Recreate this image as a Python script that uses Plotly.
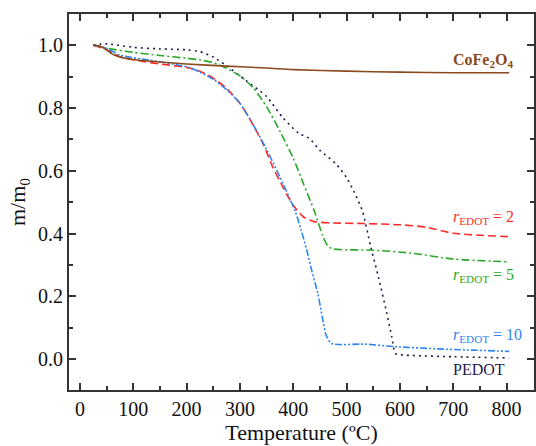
import plotly.graph_objects as go

# ---- data ----
T_cofe = [25, 40, 50, 60, 75, 100, 150, 200, 275, 350, 400, 500, 600, 700, 805]
m_cofe = [1.0, 0.995, 0.985, 0.972, 0.962, 0.954, 0.946, 0.940, 0.933, 0.927, 0.922, 0.917, 0.914, 0.912, 0.912]

T_r2 = [25, 50, 75, 110, 150, 200, 225, 250, 275, 300, 325, 345, 360, 380, 400, 420, 440, 470, 530, 600, 650, 700, 808]
m_r2 = [1.0, 0.985, 0.963, 0.950, 0.940, 0.929, 0.917, 0.895, 0.862, 0.815, 0.745, 0.680, 0.618, 0.550, 0.490, 0.452, 0.438, 0.434, 0.432, 0.428, 0.420, 0.401, 0.390]

T_r5 = [25, 50, 100, 150, 200, 225, 250, 275, 300, 325, 350, 375, 400, 420, 440, 455, 465, 475, 550, 620, 700, 805]
m_r5 = [1.0, 0.990, 0.977, 0.967, 0.958, 0.953, 0.944, 0.926, 0.902, 0.864, 0.804, 0.726, 0.640, 0.555, 0.470, 0.395, 0.360, 0.351, 0.347, 0.338, 0.319, 0.310]

T_r10 = [25, 50, 75, 130, 200, 225, 250, 275, 300, 325, 350, 375, 392, 405, 415, 425, 435, 446, 455, 462, 472, 535, 590, 670, 805]
m_r10 = [1.0, 0.990, 0.968, 0.952, 0.931, 0.914, 0.891, 0.858, 0.815, 0.746, 0.668, 0.580, 0.517, 0.465, 0.410, 0.350, 0.280, 0.210, 0.130, 0.075, 0.050, 0.048, 0.040, 0.033, 0.025]

T_pedot = [25, 50, 100, 150, 200, 225, 250, 275, 310, 350, 380, 410, 430, 450, 480, 500, 515, 530, 545, 560, 575, 585, 592, 610, 700, 805]
m_pedot = [1.0, 1.004, 0.993, 0.988, 0.985, 0.979, 0.962, 0.934, 0.889, 0.836, 0.770, 0.720, 0.703, 0.665, 0.622, 0.578, 0.530, 0.470, 0.360, 0.260, 0.150, 0.070, 0.018, 0.013, 0.008, 0.004]

x_ticks = [0, 100, 200, 300, 400, 500, 600, 700, 800]
y_ticks = [0.0, 0.2, 0.4, 0.6, 0.8, 1.0]
y_ticklabels = ["0.0", "0.2", "0.4", "0.6", "0.8", "1.0"]

C_BROWN = "#8B4A1E"
C_RED = "#FF2B2B"
C_GREEN = "#2BA82B"
C_BLUE = "#2E86F0"
C_NAVY = "#1C1C4E"

FONT = "Liberation Serif, Times New Roman, serif"

fig = go.Figure()

def add(x, y, color, dash, name):
    fig.add_trace(go.Scatter(x=x, y=y, mode="lines", name=name,
                             line=dict(color=color, width=1.6, dash=dash,
                                       shape="spline", smoothing=0.7)))

add(T_pedot, m_pedot, C_NAVY, "2px,4px", "PEDOT")
add(T_r5, m_r5, C_GREEN, "8px,3px,2px,3px", "r5")
add(T_r2, m_r2, C_RED, "8px,4px", "r2")
add(T_r10, m_r10, C_BLUE, "7px,2px,2px,2px,2px,2px", "r10")
add(T_cofe, m_cofe, C_BROWN, "solid", "CoFe2O4")

ann_font = dict(family=FONT, size=16)
lx = 695
fig.add_annotation(x=lx, y=0.952, text="<b>CoFe<sub>2</sub>O<sub>4</sub></b>", showarrow=False,
                   xanchor="left", yanchor="middle", font=dict(ann_font, color=C_BROWN))
fig.add_annotation(x=lx, y=0.452, text="<i>r</i><sub>EDOT</sub> = 2", showarrow=False,
                   xanchor="left", yanchor="middle", font=dict(ann_font, color=C_RED))
fig.add_annotation(x=lx, y=0.268, text="<i>r</i><sub>EDOT</sub> = 5", showarrow=False,
                   xanchor="left", yanchor="middle", font=dict(ann_font, color=C_GREEN))
fig.add_annotation(x=lx, y=0.074, text="<i>r</i><sub>EDOT</sub> = 10", showarrow=False,
                   xanchor="left", yanchor="middle", font=dict(ann_font, color=C_BLUE))
fig.add_annotation(x=lx, y=-0.034, text="PEDOT", showarrow=False,
                   xanchor="left", yanchor="middle", font=dict(ann_font, color=C_NAVY))

axis_common = dict(showline=True, linecolor="#333333", linewidth=2, mirror="allticks",
                   ticks="inside", ticklen=7, tickwidth=1.5, tickcolor="#333333",
                   showgrid=False, zeroline=False,
                   tickfont=dict(family=FONT, size=20, color="#111111"))

fig.update_xaxes(range=[-20.5, 851.5], tickvals=x_ticks, **axis_common,
                 minor=dict(dtick=50, tick0=0, ticks="inside", ticklen=4, tickwidth=1.5, tickcolor="#333333"),
                 title=dict(text="Temperature (ºC)", font=dict(family=FONT, size=22, color="#111111"), standoff=6))
fig.update_yaxes(range=[-0.098, 1.099], tickvals=y_ticks, ticktext=y_ticklabels, **axis_common,
                 minor=dict(dtick=0.1, tick0=0, ticks="inside", ticklen=4, tickwidth=1.5, tickcolor="#333333"),
                 title=dict(text="m/m<sub>0</sub>", font=dict(family=FONT, size=22, color="#111111"), standoff=6))

fig.update_layout(width=536, height=446, margin=dict(l=69, r=0, t=14, b=56),
                  plot_bgcolor="white", paper_bgcolor="white", showlegend=False)

fig.write_html("out.html")
